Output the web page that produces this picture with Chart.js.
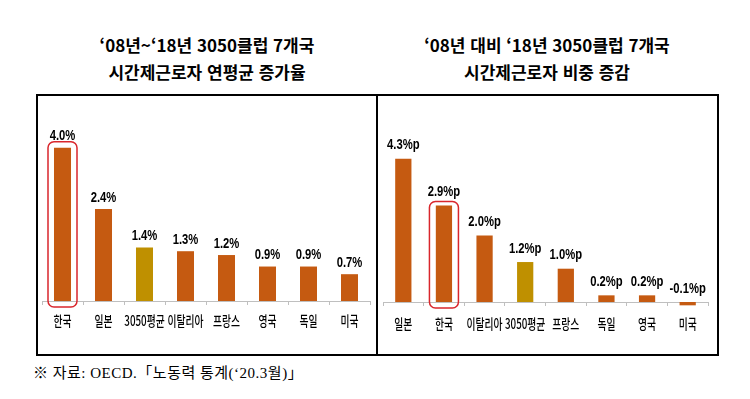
<!DOCTYPE html>
<html lang="ko">
<head>
<meta charset="utf-8">
<script src="https://cdn.jsdelivr.net/npm/chart.js@4/dist/chart.umd.min.js"></script>
<style>
  html,body{margin:0;padding:0;background:#fff;}
  #wrap{position:relative;width:750px;height:399px;background:#fff;overflow:hidden;}
  .title{position:absolute;top:31px;width:340px;text-align:center;font-family:"Noto Sans CJK KR",sans-serif;font-weight:bold;font-size:17px;line-height:27px;color:#000;}
  .box{position:absolute;left:36px;top:94px;width:683px;height:262px;border:2px solid #000;box-sizing:border-box;}
  .divider{position:absolute;left:376px;top:94px;width:2px;height:262px;background:#000;}
  .cv{position:absolute;top:96px;width:338px;height:258px;}
  .note{position:absolute;left:33px;top:361px;font-family:"Liberation Serif","DejaVu Serif","Noto Sans CJK KR",serif;font-size:15px;letter-spacing:0.5px;color:#000;white-space:nowrap;}
</style>
</head>
<body>
<div id="wrap">
  <div class="title" style="left:37px;">‘08년~‘18년 3050클럽 7개국<br>시간제근로자 연평균 증가율</div>
  <div class="title" style="left:377px;">‘08년 대비 ‘18년 3050클럽 7개국<br>시간제근로자 비중 증감</div>
  <div class="box"></div>
  <div class="divider"></div>
  <div class="cv" style="left:38px;"><canvas id="c1" width="338" height="258"></canvas></div>
  <div class="cv" style="left:378px;"><canvas id="c2" width="338" height="258"></canvas></div>
  <div class="note">※ 자료: OECD.「노동력 통계(‘20.3월)」</div>
</div>
<script>
// ---- data ----
const leftCategories = ['한국','일본','3050평균','이탈리아','프랑스','영국','독일','미국'];
const leftValues     = [4.0, 2.4, 1.4, 1.3, 1.2, 0.9, 0.9, 0.7];
const rightCategories = ['일본','한국','이탈리아','3050평균','프랑스','독일','영국','미국'];
const rightValues     = [4.3, 2.9, 2.0, 1.2, 1.0, 0.2, 0.2, -0.1];
const highlightCategory = '한국';
const averageCategory = '3050평균';

const BAR = '#C55A11';
const AVG = '#BF9000';

Chart.defaults.animation = false;
Chart.defaults.responsive = false;

function makePlugin(opts){
  return {
    id: 'custom_' + opts.id,
    afterDatasetsDraw(chart){
      const ctx = chart.ctx;
      const meta = chart.getDatasetMeta(0);
      const cats = chart.data.labels;
      const vals = chart.data.datasets[0].data;
      const base = chart.scales.y.getPixelForValue(0);
      // highlight box
      meta.data.forEach((bar, i) => {
        if (cats[i] !== highlightCategory) return;
        const top = Math.min(bar.y, base) - opts.hlTop;
        const bottom = base + 6;
        ctx.save();
        ctx.strokeStyle = '#D9262C';
        ctx.lineWidth = 1.5;
        ctx.beginPath();
        ctx.roundRect(bar.x - 14.5, top, 29, bottom - top, 6);
        ctx.stroke();
        ctx.restore();
      });
      // value labels
      meta.data.forEach((bar, i) => {
        const top = Math.min(bar.y, base);
        const txt = vals[i].toFixed(1) + opts.suffix;
        ctx.save();
        ctx.translate(bar.x, top - opts.labelOff);
        ctx.scale(0.75, 1);
        ctx.font = 'bold 15px "Liberation Sans", Arial, sans-serif';
        ctx.fillStyle = '#000';
        ctx.textAlign = 'center';
        ctx.textBaseline = 'middle';
        ctx.fillText(txt, 0, 0);
        ctx.restore();
      });
      // category labels
      const xs = chart.scales.x;
      cats.forEach((c, i) => {
        const x = xs.getPixelForValue(i);
        ctx.save();
        ctx.translate(x, base + opts.catOff);
        ctx.scale(0.7, 1);
        ctx.font = '500 14px "Noto Sans CJK KR", sans-serif';
        ctx.fillStyle = '#000';
        ctx.textAlign = 'center';
        ctx.textBaseline = 'middle';
        ctx.fillText(c, 0, 0);
        ctx.restore();
      });
    }
  };
}

function makeChart(id, cats, vals, cfg){
  return new Chart(document.getElementById(id), {
    type: 'bar',
    data: {
      labels: cats,
      datasets: [{
        data: vals,
        backgroundColor: cats.map(c => c === averageCategory ? AVG : BAR),
        borderWidth: 0,
        barPercentage: cfg.barPct,
        categoryPercentage: 1,
        clip: false
      }]
    },
    options: {
      responsive: false,
      animation: false,
      layout: { padding: { left: cfg.padL, right: cfg.padR, top: cfg.padT, bottom: 0 } },
      plugins: { legend: { display: false }, tooltip: { enabled: false } },
      scales: {
        x: {
          offset: true,
          ticks: { display: false },
          grid: { display: true, drawOnChartArea: false, drawTicks: true, tickLength: 4, color: '#BFBFBF', offset: true },
          border: { display: true, color: '#BFBFBF', width: 1 },
          afterFit(s){ s.height = cfg.xH; }
        },
        y: { display: false, min: 0, max: 5 }
      }
    },
    plugins: [makePlugin(cfg)]
  });
}

makeChart('c1', leftCategories, leftValues, {
  id: 'l', barPct: 0.415, padL: 4, padR: 6, padT: 13.5, xH: 53,
  suffix: '%', labelOff: 11.5, catOff: 19.5, hlTop: 6
});
makeChart('c2', rightCategories, rightValues, {
  id: 'r', barPct: 0.4, padL: 5, padR: 8, padT: 39.5, xH: 52,
  suffix: '%p', labelOff: 13.5, catOff: 22, hlTop: 4
});
</script>
</body>
</html>
